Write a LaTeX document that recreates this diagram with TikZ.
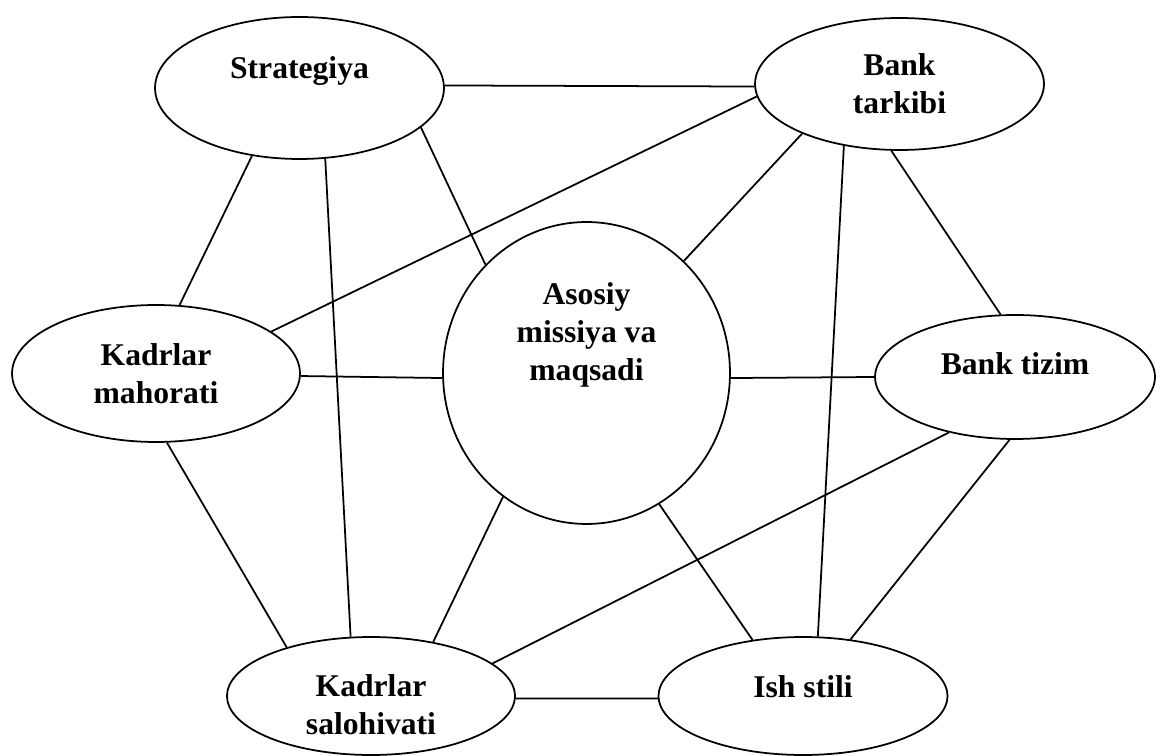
\documentclass[tikz,border=0pt]{standalone}
\usepackage{fontspec}
\setmainfont{Liberation Serif}
\usepackage{tikz}
\usetikzlibrary{shapes.geometric}
\tikzset{
  oval/.style={draw, ellipse, line width=1pt, inner sep=0pt, minimum width=5.78cm},
  lbl/.style={align=center, inner sep=0pt, font=\bfseries\fontsize{18}{21.5}\selectfont},
  link/.style={line width=1pt}}

\begin{document}
\begin{tikzpicture}[x=0.02cm, y=-0.02cm]
  \useasboundingbox (0,0) rectangle (1156,756);
  % ovals
  \node[oval, minimum height=2.84cm] (strat) at (299.5,88) {};
  \node[oval, minimum height=2.64cm] (tark) at (899.5,84) {};
  \node[oval, minimum width=5.76cm, minimum height=2.74cm] (mah) at (156,373.5) {};
  \node[oval, minimum width=5.6cm, minimum height=2.48cm] (tizim) at (1015,377) {};
  \node[oval, minimum width=5.76cm, minimum height=2.36cm] (sal) at (371,696) {};
  \node[oval, minimum height=2.36cm] (ish) at (803,696) {};
  \node[oval, minimum width=5.74cm, minimum height=6.04cm] (asos) at (586.5,373) {};
  % texts
  \node[lbl] (strat-t) at ([yshift=0.34cm]strat.center) {Strategiya};
  \node[lbl] (tark-t) at (tark.center) {Bank\\tarkibi};
  \node[lbl] (mah-t) at (mah.center) {Kadrlar\\mahorati};
  \node[lbl] (tizim-t) at ([yshift=0.26cm]tizim.center) {Bank tizim};
  \node[lbl] (sal-t) at ([yshift=-0.18cm]sal.center) {Kadrlar\\salohivati};
  \node[lbl] (ish-t) at ([yshift=0.18cm]ish.center) {Ish stili};
  \node[lbl] (asos-t) at ([yshift=0.76cm]asos.center) {Asosiy\\missiya va\\maqsadi};
  % links
  \draw[link] (strat.1) -- (tark.181); \draw[link] (strat.-18) -- (asos.133);
  \draw[link] (strat.235.5) -- (mah.71); \draw[link] (strat.290.5) -- (sal.109.4);
  \draw[link] (tark.185) -- (mah.20.8); \draw[link] (tark.207.2) -- (asos.49.5);
  \draw[link] (tark.228.4) -- (ish.76.7); \draw[link] (tark.263.7) -- (tizim.103.6);
  \draw[link] (mah.-1) -- (asos.182); \draw[link] (mah.279) -- (sal.150.8);
  \draw[link] (asos.358) -- (tizim.180); \draw[link] (asos.236.7) -- (sal.41);
  \draw[link] (asos.299.5) -- (ish.132.9);
  \draw[link] (tizim.220.5) -- (sal.15.3); \draw[link] (tizim.265) -- (ish.50.3);
  \draw[link] (sal.359) -- (ish.181.2);
\end{tikzpicture}
\end{document}
